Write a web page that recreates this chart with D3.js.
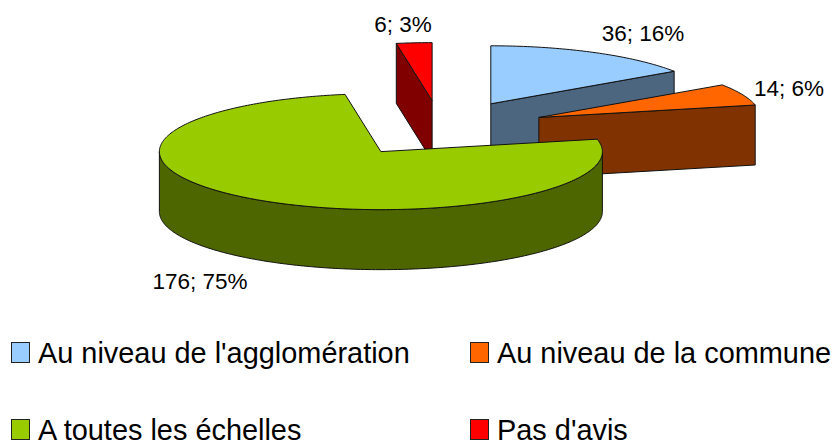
<!DOCTYPE html>
<html>

<head>
    <meta charset="utf-8">
    <style>
        html, body {
          margin: 0;
          background: white;
        }

        svg {
          display: block;
        }

        text {
          font-family: "Liberation Sans", Arial, sans-serif;
          fill: #000;
        }
    </style>
    <script src="https://d3js.org/d3.v7.min.js"></script>
</head>

<body>
    <svg id="Pie"></svg>
</body>

<script>
  let categories = ["Au niveau de l'agglomération", "Au niveau de la commune", "A toutes les échelles", "Pas d'avis"];
  let counts = [36, 14, 176, 6];
  let percents = [16, 6, 75, 3]; // as printed on the chart, they do not round exactly
  let topColors = ["#99ccff", "#ff6600", "#99cc00", "#ff0000"];
  let sideColors = ["#4d6680", "#803300", "#4d6600", "#800000"];

  function getConfig() {
    let width = 835;
    let height = 443;
    let container = d3.select("#Pie")
      .attr("width", width)
      .attr("height", height);

    // The pie is a flattened ellipse, a unit circle mapped through two scales.
    let center = { x: 440.8, y: 128.5 };
    let radius = { x: 221.5, y: 58 };
    let xScale = d3.scaleLinear().domain([-1, 1]).range([center.x - radius.x, center.x + radius.x]);
    let yScale = d3.scaleLinear().domain([-1, 1]).range([center.y - radius.y, center.y + radius.y]);

    return { width, height, container, xScale, yScale, depth: 60, explode: 0.482 }
  }

  function getSlices(config) {
    let pie = d3.pie().sort(null);
    return pie(counts).map((d, i) => {
      // d3.pie starts at 12 o'clock, the ellipse angle starts at 3 o'clock.
      let start = d.startAngle - Math.PI / 2;
      let end = d.endAngle - Math.PI / 2;
      let mid = (start + end) / 2;
      let apex = [config.explode * Math.cos(mid), config.explode * Math.sin(mid)];
      return { index: i, start, end, mid, apex }
    });
  }

  function rimPoints(slice, from, to) {
    let steps = Math.max(2, Math.ceil((to - from) * 60));
    return d3.range(steps + 1).map(i => {
      let t = from + (to - from) * i / steps;
      return [slice.apex[0] + Math.cos(t), slice.apex[1] + Math.sin(t)];
    });
  }

  function drawSlice(body, slice, config) {
    let { xScale, yScale, depth } = config;
    let top = d3.line().x(p => xScale(p[0])).y(p => yScale(p[1]));
    let toBottom = points => points.map(p => [xScale(p[0]), yScale(p[1]) + depth]);
    let toScreen = points => points.map(p => [xScale(p[0]), yScale(p[1])]);
    let screen = d3.line();

    let addSide = points => {
      let upper = toScreen(points);
      let lower = toBottom(points).reverse();
      body.append("path")
        .attr("d", screen(upper.concat(lower)) + "Z")
        .attr("fill", sideColors[slice.index])
        .attr("stroke", "#111")
        .attr("stroke-linejoin", "round");
    };

    // Straight walls, only the ones that face the viewer.
    if (Math.cos(slice.start) < -1e-6) {
      addSide([slice.apex, rimPoints(slice, slice.start, slice.start)[0]]);
    }
    if (Math.cos(slice.end) > 1e-6) {
      addSide([slice.apex, rimPoints(slice, slice.end, slice.end)[0]]);
    }

    // Outer wall, only the front half of the rim.
    let from = Math.max(slice.start, 0);
    let to = Math.min(slice.end, Math.PI);
    if (to > from) {
      addSide(rimPoints(slice, from, to));
    }

    body.append("path")
      .attr("d", top([slice.apex].concat(rimPoints(slice, slice.start, slice.end))) + "Z")
      .attr("fill", topColors[slice.index])
      .attr("stroke", "#111")
      .attr("stroke-linejoin", "round");
  }

  function drawPie(slices, config) {
    let body = config.container.append("g");
    // Back slices first so the front ones cover them.
    let ordered = slices.slice().sort((a, b) => d3.ascending(a.apex[1], b.apex[1]));
    ordered.forEach(slice => drawSlice(body, slice, config));
  }

  function drawLabels(config) {
    let labelX = [643, 789, 200, 403];
    let labelY = [41, 96, 289, 32];
    config.container.append("g")
      .selectAll("text")
      .data(counts)
      .enter()
      .append("text")
      .attr("x", (d, i) => labelX[i])
      .attr("y", (d, i) => labelY[i])
      .attr("text-anchor", "middle")
      .attr("font-size", 22.5)
      .text((d, i) => `${d}; ${percents[i]}%`);
  }

  function drawLegend(config) {
    let columnX = d3.scalePoint().domain([0, 1]).range([11, 470]);
    let rowY = d3.scalePoint().domain([0, 1]).range([342, 419]);
    let items = config.container.append("g")
      .selectAll("g")
      .data(categories)
      .enter()
      .append("g")
      .attr("transform", (d, i) => `translate(${columnX(i % 2)},${rowY(Math.floor(i / 2))})`);

    items.append("rect")
      .attr("x", 0.5)
      .attr("y", 0.5)
      .attr("width", 18)
      .attr("height", 20)
      .attr("fill", (d, i) => topColors[i])
      .attr("stroke", "#222");

    items.append("text")
      .attr("x", 27)
      .attr("y", 21)
      .attr("font-size", 28.9)
      .text(d => d);
  }

  let config = getConfig();
  drawPie(getSlices(config), config);
  drawLabels(config);
  drawLegend(config);
</script>
</html>
